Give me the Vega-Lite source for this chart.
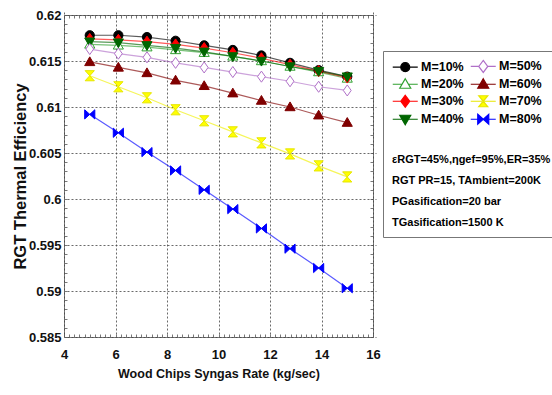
{
  "$schema": "https://vega.github.io/schema/vega-lite/v6.json",
  "width": 309,
  "height": 322,
  "autosize": {"type": "none"},
  "padding": {"left": 64, "top": 15, "right": 179, "bottom": 58},
  "background": "white",
  "config": {
    "view": {"stroke": "#777", "strokeWidth": 1},
    "font": "Liberation Sans, Arial, sans-serif",
    "axis": {
      "domain": false, "tickColor": "#555", "tickWidth": 0.8, "tickSize": 3, "offset": -3,
      "labelFont": "Liberation Sans, Arial, sans-serif", "labelFontWeight": "bold", "labelFontSize": 13, "labelColor": "#111",
      "titleFont": "Liberation Sans, Arial, sans-serif", "titleFontWeight": "bold", "titleColor": "#111"
    }
  },
  "data": {"values": [
    {"x": 5, "y": 0.6178, "s": "M=10%"}, {"x": 6.111, "y": 0.6178, "s": "M=10%"}, {"x": 7.222, "y": 0.6176, "s": "M=10%"}, {"x": 8.333, "y": 0.6172, "s": "M=10%"}, {"x": 9.444, "y": 0.6167, "s": "M=10%"}, {"x": 10.556, "y": 0.6162, "s": "M=10%"}, {"x": 11.667, "y": 0.6156, "s": "M=10%"}, {"x": 12.778, "y": 0.6148, "s": "M=10%"}, {"x": 13.889, "y": 0.614, "s": "M=10%"}, {"x": 15, "y": 0.6133, "s": "M=10%"},
    {"x": 5, "y": 0.6168, "s": "M=20%"}, {"x": 6.111, "y": 0.6167, "s": "M=20%"}, {"x": 7.222, "y": 0.6165, "s": "M=20%"}, {"x": 8.333, "y": 0.6162, "s": "M=20%"}, {"x": 9.444, "y": 0.6159, "s": "M=20%"}, {"x": 10.556, "y": 0.6155, "s": "M=20%"}, {"x": 11.667, "y": 0.615, "s": "M=20%"}, {"x": 12.778, "y": 0.6144, "s": "M=20%"}, {"x": 13.889, "y": 0.6138, "s": "M=20%"}, {"x": 15, "y": 0.6131, "s": "M=20%"},
    {"x": 5, "y": 0.6174, "s": "M=30%"}, {"x": 6.111, "y": 0.6173, "s": "M=30%"}, {"x": 7.222, "y": 0.6171, "s": "M=30%"}, {"x": 8.333, "y": 0.6168, "s": "M=30%"}, {"x": 9.444, "y": 0.6164, "s": "M=30%"}, {"x": 10.556, "y": 0.6159, "s": "M=30%"}, {"x": 11.667, "y": 0.6153, "s": "M=30%"}, {"x": 12.778, "y": 0.6146, "s": "M=30%"}, {"x": 13.889, "y": 0.6139, "s": "M=30%"}, {"x": 15, "y": 0.6132, "s": "M=30%"},
    {"x": 5, "y": 0.6171, "s": "M=40%"}, {"x": 6.111, "y": 0.617, "s": "M=40%"}, {"x": 7.222, "y": 0.6167, "s": "M=40%"}, {"x": 8.333, "y": 0.6164, "s": "M=40%"}, {"x": 9.444, "y": 0.616, "s": "M=40%"}, {"x": 10.556, "y": 0.6155, "s": "M=40%"}, {"x": 11.667, "y": 0.615, "s": "M=40%"}, {"x": 12.778, "y": 0.6144, "s": "M=40%"}, {"x": 13.889, "y": 0.6139, "s": "M=40%"}, {"x": 15, "y": 0.6133, "s": "M=40%"},
    {"x": 5, "y": 0.6163, "s": "M=50%"}, {"x": 6.111, "y": 0.6158, "s": "M=50%"}, {"x": 7.222, "y": 0.6154, "s": "M=50%"}, {"x": 8.333, "y": 0.6148, "s": "M=50%"}, {"x": 9.444, "y": 0.6143, "s": "M=50%"}, {"x": 10.556, "y": 0.6138, "s": "M=50%"}, {"x": 11.667, "y": 0.6133, "s": "M=50%"}, {"x": 12.778, "y": 0.6128, "s": "M=50%"}, {"x": 13.889, "y": 0.6122, "s": "M=50%"}, {"x": 15, "y": 0.6118, "s": "M=50%"},
    {"x": 5, "y": 0.6149, "s": "M=60%"}, {"x": 6.111, "y": 0.6143, "s": "M=60%"}, {"x": 7.222, "y": 0.6137, "s": "M=60%"}, {"x": 8.333, "y": 0.6129, "s": "M=60%"}, {"x": 9.444, "y": 0.6123, "s": "M=60%"}, {"x": 10.556, "y": 0.6115, "s": "M=60%"}, {"x": 11.667, "y": 0.6107, "s": "M=60%"}, {"x": 12.778, "y": 0.61, "s": "M=60%"}, {"x": 13.889, "y": 0.6091, "s": "M=60%"}, {"x": 15, "y": 0.6083, "s": "M=60%"},
    {"x": 5, "y": 0.6134, "s": "M=70%"}, {"x": 6.111, "y": 0.6122, "s": "M=70%"}, {"x": 7.222, "y": 0.611, "s": "M=70%"}, {"x": 8.333, "y": 0.6097, "s": "M=70%"}, {"x": 9.444, "y": 0.6085, "s": "M=70%"}, {"x": 10.556, "y": 0.6073, "s": "M=70%"}, {"x": 11.667, "y": 0.6061, "s": "M=70%"}, {"x": 12.778, "y": 0.6049, "s": "M=70%"}, {"x": 13.889, "y": 0.6036, "s": "M=70%"}, {"x": 15, "y": 0.6024, "s": "M=70%"},
    {"x": 5, "y": 0.6092, "s": "M=80%"}, {"x": 6.111, "y": 0.6072, "s": "M=80%"}, {"x": 7.222, "y": 0.6051, "s": "M=80%"}, {"x": 8.333, "y": 0.6031, "s": "M=80%"}, {"x": 9.444, "y": 0.601, "s": "M=80%"}, {"x": 10.556, "y": 0.5989, "s": "M=80%"}, {"x": 11.667, "y": 0.5968, "s": "M=80%"}, {"x": 12.778, "y": 0.5946, "s": "M=80%"}, {"x": 13.889, "y": 0.5925, "s": "M=80%"}, {"x": 15, "y": 0.5903, "s": "M=80%"}
  ]},
  "resolve": {
    "scale": {"stroke": "independent", "fill": "independent", "shape": "independent"},
    "axis": {"x": "independent", "y": "independent"}
  },
  "layer": [
    {
      "mark": {"type": "line", "strokeWidth": 1.2, "opacity": 0.65},
      "encoding": {
        "x": {"field": "x", "type": "quantitative",
          "scale": {"domain": [4, 16], "nice": false, "zero": false},
          "axis": {"orient": "bottom",
            "values": [4, 4.2, 4.4, 4.6, 4.8, 5, 5.2, 5.4, 5.6, 5.8, 6, 6.2, 6.4, 6.6, 6.8, 7, 7.2, 7.4, 7.6, 7.8, 8, 8.2, 8.4, 8.6, 8.8, 9, 9.2, 9.4, 9.6, 9.8, 10, 10.2, 10.4, 10.6, 10.8, 11, 11.2, 11.4, 11.6, 11.8, 12, 12.2, 12.4, 12.6, 12.8, 13, 13.2, 13.4, 13.6, 13.8, 14, 14.2, 14.4, 14.6, 14.8, 15, 15.2, 15.4, 15.6, 15.8, 16],
            "labelExpr": "abs(datum.value/2-round(datum.value/2))<0.01 ? format(datum.value, 'd') : ''",
            "labelFlush": false, "labelOverlap": false,
            "grid": true, "gridColor": "#444", "gridDash": [2, 2], "gridWidth": 0.8,
            "gridOpacity": {"condition": {"test": "abs(datum.value/2-round(datum.value/2))<0.01", "value": 1}, "value": 0},
            "labelPadding": 11, "title": "Wood Chips Syngas Rate (kg/sec)", "titleFontSize": 12.5, "titlePadding": 6}},
        "y": {"field": "y", "type": "quantitative",
          "scale": {"domain": [0.585, 0.62], "nice": false, "zero": false},
          "axis": {"orient": "left",
            "values": [0.585, 0.586, 0.587, 0.588, 0.589, 0.59, 0.591, 0.592, 0.593, 0.594, 0.595, 0.596, 0.597, 0.598, 0.599, 0.6, 0.601, 0.602, 0.603, 0.604, 0.605, 0.606, 0.607, 0.608, 0.609, 0.61, 0.611, 0.612, 0.613, 0.614, 0.615, 0.616, 0.617, 0.618, 0.619, 0.62],
            "labelExpr": "abs(datum.value*200-round(datum.value*200))<0.01 ? format(datum.value, '.3~f') : ''",
            "labelFlush": false, "labelOverlap": false,
            "grid": true, "gridColor": "#444", "gridDash": [2, 2], "gridWidth": 0.8,
            "gridOpacity": {"condition": {"test": "abs(datum.value*200-round(datum.value*200))<0.01", "value": 1}, "value": 0},
            "labelPadding": 3, "title": "RGT Thermal Efficiency", "titleFontSize": 16.5, "titlePadding": 0}},
        "stroke": {"field": "s", "type": "nominal", "legend": null,
          "scale": {"domain": ["M=10%", "M=20%", "M=30%", "M=40%", "M=50%", "M=60%", "M=70%", "M=80%"],
                    "range": ["#000000", "#30a030", "#ff0000", "#006600", "#b070c8", "#800000", "#f0f000", "#0000ff"]}}
      }
    },
    {
      "mark": {"type": "point", "size": 85, "strokeWidth": 1, "opacity": 1},
      "encoding": {
        "x": {"field": "x", "type": "quantitative",
          "axis": {"orient": "top", "labels": false, "title": null, "grid": false,
            "values": [4, 4.2, 4.4, 4.6, 4.8, 5, 5.2, 5.4, 5.6, 5.8, 6, 6.2, 6.4, 6.6, 6.8, 7, 7.2, 7.4, 7.6, 7.8, 8, 8.2, 8.4, 8.6, 8.8, 9, 9.2, 9.4, 9.6, 9.8, 10, 10.2, 10.4, 10.6, 10.8, 11, 11.2, 11.4, 11.6, 11.8, 12, 12.2, 12.4, 12.6, 12.8, 13, 13.2, 13.4, 13.6, 13.8, 14, 14.2, 14.4, 14.6, 14.8, 15, 15.2, 15.4, 15.6, 15.8, 16]}},
        "y": {"field": "y", "type": "quantitative",
          "axis": {"orient": "right", "labels": false, "title": null, "grid": false,
            "values": [0.585, 0.586, 0.587, 0.588, 0.589, 0.59, 0.591, 0.592, 0.593, 0.594, 0.595, 0.596, 0.597, 0.598, 0.599, 0.6, 0.601, 0.602, 0.603, 0.604, 0.605, 0.606, 0.607, 0.608, 0.609, 0.61, 0.611, 0.612, 0.613, 0.614, 0.615, 0.616, 0.617, 0.618, 0.619, 0.62]}},
        "stroke": {"field": "s", "type": "nominal", "legend": null,
          "scale": {"domain": ["M=10%", "M=20%", "M=30%", "M=40%", "M=50%", "M=60%", "M=70%", "M=80%"],
                    "range": ["#000000", "#30a030", "#ff0000", "#006600", "#b070c8", "#800000", "#e6e600", "#0000ff"]}},
        "fill": {"field": "s", "type": "nominal", "legend": null,
          "scale": {"domain": ["M=10%", "M=20%", "M=30%", "M=40%", "M=50%", "M=60%", "M=70%", "M=80%"],
                    "range": ["#000000", "#ffffff", "#ff0000", "#006600", "#ffffff", "#800000", "#ffff00", "#0000ff"]}},
        "shape": {"field": "s", "type": "nominal", "legend": null,
          "scale": {"domain": ["M=10%", "M=20%", "M=30%", "M=40%", "M=50%", "M=60%", "M=70%", "M=80%"],
                    "range": ["circle", "M0,-1.1L1.1,0.8H-1.1Z", "M0,-1.2L0.85,0L0,1.2L-0.85,0Z", "M0,1.1L1.1,-0.8H-1.1Z", "M0,-1.2L0.85,0L0,1.2L-0.85,0Z", "M0,-1.1L1.1,0.8H-1.1Z", "M-1,-1.1H1L-1,1.1H1Z", "M-1.1,-1L1.1,1V-1L-1.1,1Z"]}}
      }
    },
    {
      "mark": {"type": "point", "size": 0, "strokeWidth": 1.2},
      "encoding": {
        "x": {"field": "x", "type": "quantitative", "axis": null},
        "y": {"field": "y", "type": "quantitative", "axis": null},
        "stroke": {"field": "s", "type": "nominal",
          "scale": {"domain": ["M=10%", "M=20%", "M=30%", "M=40%", "M=50%", "M=60%", "M=70%", "M=80%"],
                    "range": ["#000000", "#30a030", "#ff0000", "#006600", "#b070c8", "#800000", "#e6e600", "#0000ff"]}},
        "fill": {"field": "s", "type": "nominal",
          "scale": {"domain": ["M=10%", "M=20%", "M=30%", "M=40%", "M=50%", "M=60%", "M=70%", "M=80%"],
                    "range": ["#000000", "#ffffff", "#ff0000", "#006600", "#ffffff", "#800000", "#ffff00", "#0000ff"]}},
        "shape": {"field": "s", "type": "nominal",
          "scale": {"domain": ["M=10%", "M=20%", "M=30%", "M=40%", "M=50%", "M=60%", "M=70%", "M=80%"],
                    "range": ["M-2.5,0H-0.9M0.9,0H2.5M-0.9,0A0.9,0.9,0,1,0,0.9,0A0.9,0.9,0,1,0,-0.9,0Z", "M-2.5,0H-0.7M0.7,0H2.5M0,-1.1L1.1,0.8H-1.1Z", "M-2.5,0H-0.9M0.9,0H2.5M0,-1.2L0.9,0L0,1.2L-0.9,0Z", "M-2.5,0H-0.7M0.7,0H2.5M0,1.1L1.1,-0.8H-1.1Z", "M-2.5,0H-0.9M0.9,0H2.5M0,-1.2L0.9,0L0,1.2L-0.9,0Z", "M-2.5,0H-0.7M0.7,0H2.5M0,-1.1L1.1,0.8H-1.1Z", "M-2.5,0H-0.2M0.2,0H2.5M-0.9,-1.1H0.9L-0.9,1.1H0.9Z", "M-2.5,0H-1.1M1.1,0H2.5M-1.1,-1L1.1,1V-1L-1.1,1Z"]},
          "legend": {
            "orient": "none", "legendX": 319, "legendY": 36, "columns": 2,
            "columnPadding": 4, "rowPadding": 1, "padding": 9,
            "strokeColor": "#777", "fillColor": "white",
            "symbolSize": 100, "symbolOffset": 7, "labelOffset": 9.5, "symbolStrokeWidth": 1.2, "symbolOpacity": 1,
            "labelFont": "Liberation Sans, Arial, sans-serif", "labelFontSize": 12.5, "labelFontWeight": "bold", "labelColor": "#000", "labelLimit": 0,
            "title": ["εRGT=45%,ηgef=95%,ER=35%", "RGT PR=15, TAmbient=200K", "PGasification=20 bar", "TGasification=1500 K"],
            "titleOrient": "bottom", "titleAnchor": "start", "titleFont": "Liberation Sans, Arial, sans-serif", "titleFontSize": 11, "titleFontWeight": "bold", "titleColor": "#000", "titleLineHeight": 21, "titlePadding": 27, "titleLimit": 0
          }
        }
      }
    }
  ]
}
